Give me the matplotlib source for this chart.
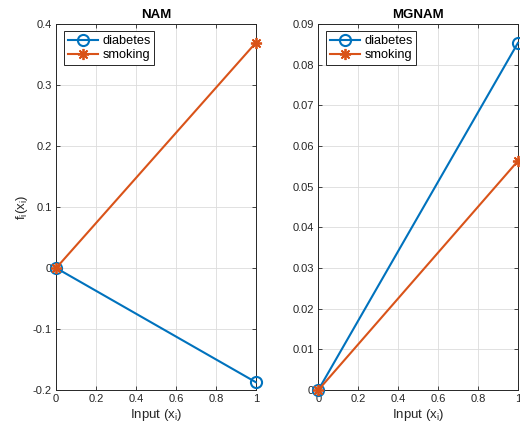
import matplotlib
matplotlib.use("Agg")
import matplotlib.pyplot as plt

plt.rcParams['font.family'] = ['Liberation Sans', 'DejaVu Sans']
plt.rcParams['mathtext.fontset'] = 'custom'
plt.rcParams['mathtext.rm'] = 'Liberation Sans'
plt.rcParams['mathtext.it'] = 'Liberation Sans'

BLUE = "#0072BD"
ORANGE = "#D95319"
TXT = "#262626"

x_vals = [0, 1]
series_names = ["diabetes", "smoking"]
nam_diabetes = [0, -0.187]
nam_smoking = [0, 0.369]
mgnam_diabetes = [0, 0.0853]
mgnam_smoking = [0, 0.0563]

nam_yticks = [-0.2, -0.1, 0, 0.1, 0.2, 0.3, 0.4]
nam_ylabels = ["-0.2", "-0.1", "0", "0.1", "0.2", "0.3", "0.4"]
mg_yticks = [0, 0.01, 0.02, 0.03, 0.04, 0.05, 0.06, 0.07, 0.08, 0.09]
mg_ylabels = ["0", "0.01", "0.02", "0.03", "0.04", "0.05", "0.06", "0.07", "0.08", "0.09"]
xticks = [0, 0.2, 0.4, 0.6, 0.8, 1]
xlabels = ["0", "0.2", "0.4", "0.6", "0.8", "1"]

panels = {
    "NAM": (nam_diabetes, nam_smoking),
    "MGNAM": (mgnam_diabetes, mgnam_smoking),
}

fig = plt.figure(figsize=(5.2, 4.25), dpi=100)
ax1 = fig.add_axes([0.108, 0.082, 0.384, 0.862])
ax2 = fig.add_axes([0.612, 0.082, 0.384, 0.862])


def style_axes(ax, title, yticks, ylabels, ylim):
    ax.plot(x_vals, panels[title][0], color=BLUE, lw=1.5, marker="o", ms=8,
            mfc="none", mew=1.5, label=series_names[0], clip_on=False, zorder=3)
    ax.plot(x_vals, panels[title][1], color=ORANGE, lw=1.5, marker=(8, 2, 0), ms=8,
            mew=1.3, label=series_names[1], clip_on=False, zorder=4)
    ax.set_xlim(0, 1)
    ax.set_ylim(*ylim)
    ax.set_xticks(xticks)
    ax.set_xticklabels(xlabels)
    ax.set_yticks(yticks)
    ax.set_yticklabels(ylabels)
    ax.tick_params(direction="in", length=3, width=0.6, colors=TXT, labelsize=8,
                   top=True, right=True, pad=3)
    ax.grid(True, color="#dcdcdc", lw=0.6)
    ax.set_axisbelow(True)
    for s in ax.spines.values():
        s.set_color(TXT)
        s.set_linewidth(0.7)
    ax.set_title(title, fontsize=9.5, fontweight="bold", color="black", pad=4)
    ax.set_xlabel(r"Input (x$_{\mathregular{i}}$)", fontsize=9.5, color=TXT, labelpad=2)
    leg = ax.legend(loc="upper left", fontsize=9.2, fancybox=False, framealpha=1,
                    edgecolor=TXT, handlelength=2.4, borderpad=0.3, labelspacing=0.15,
                    handletextpad=0.3, borderaxespad=0.6)
    leg.get_frame().set_linewidth(0.7)


style_axes(ax1, "NAM", nam_yticks, nam_ylabels, (-0.2, 0.4))
style_axes(ax2, "MGNAM", mg_yticks, mg_ylabels, (0, 0.09))
ax1.set_ylabel(r"f$_{\mathregular{i}}$(x$_{\mathregular{i}}$)", fontsize=9.5, color=TXT, labelpad=2)

fig.savefig("out.png", dpi=100)
